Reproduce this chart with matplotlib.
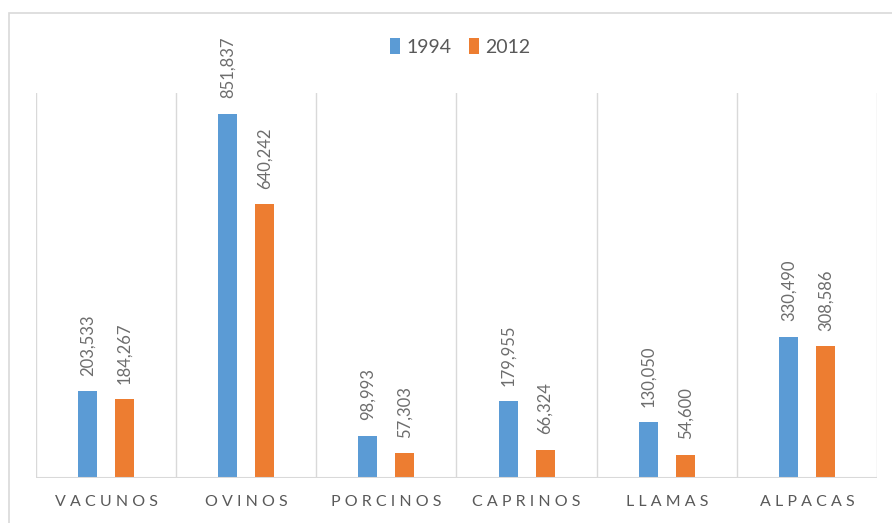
import numpy as np
import matplotlib
matplotlib.use('Agg')
import matplotlib.pyplot as plt
from matplotlib.patches import Rectangle

categorias = ['VACUNOS', 'OVINOS', 'PORCINOS', 'CAPRINOS', 'LLAMAS', 'ALPACAS']
anio_1994 = [203533, 851837, 98993, 179955, 130050, 330490]
anio_2012 = [184267, 640242, 57303, 66324, 54600, 308586]
series = ['1994', '2012']

azul = '#5B9BD5'
naranja = '#ED7D31'
gris = '#595959'
linea = '#D9D9D9'

plt.rcParams['font.family'] = ['Lato', 'DejaVu Sans']

fig = plt.figure(figsize=(8.92, 5.23), dpi=100)
ax = fig.add_axes([36/892, 1-478/523, (877-36)/892, (478-93)/523])

# marco exterior del grafico
fig.patches.append(Rectangle((9/892, -0.1), 1.2, 1.1 - 13/523,
                             transform=fig.transFigure, fill=False,
                             edgecolor=linea, linewidth=1.2))

x = np.arange(len(categorias))
w = 0.136
off = 0.132
b1 = ax.bar(x - off, anio_1994, w, color=azul, label=series[0])
b2 = ax.bar(x + off, anio_2012, w, color=naranja, label=series[1])

for bars, vals in [(b1, anio_1994), (b2, anio_2012)]:
    for r, v in zip(bars, vals):
        ax.annotate('{:,}'.format(v), (r.get_x() + r.get_width()/2, r.get_height()),
                    xytext=(0, 11), textcoords='offset points',
                    rotation=90, ha='center', va='bottom',
                    fontsize=12, color='#6d6d6d')

ax.set_xlim(-0.5, len(categorias) - 0.5)
ax.set_ylim(0, 900000)
for s in ax.spines.values():
    s.set_visible(False)
for b in np.arange(-0.5, len(categorias), 1.0):
    ax.axvline(b, color=linea, linewidth=1, zorder=0)
ax.axhline(0, color=linea, linewidth=1.5, zorder=3)

ax.set_yticks([])
ax.set_xticks(x)
ax.set_xticklabels([' '.join(c) for c in categorias], fontsize=11.5, color=gris)
ax.tick_params(axis='x', length=0, pad=12)

ax.legend(loc='center', bbox_to_anchor=(460/892, 1-47/523),
          bbox_transform=fig.transFigure, ncol=2, frameon=False,
          fontsize=14, handlelength=0.55, handleheight=0.85,
          handletextpad=0.3, columnspacing=0.9,
          labelcolor=gris)

plt.savefig('out.png', dpi=100)
